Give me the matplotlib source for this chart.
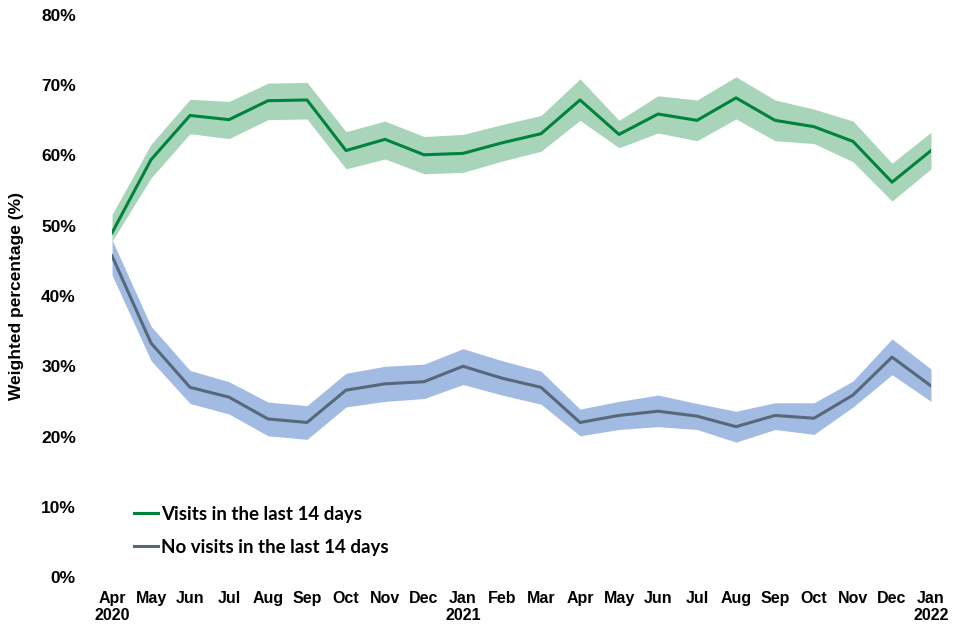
import matplotlib.pyplot as plt
import numpy as np

plt.rcParams['font.family'] = ['Liberation Sans', 'DejaVu Sans']
plt.rcParams['font.weight'] = 'bold'

# month labels, year on a second line where the year changes
months = ['Apr\n2020', 'May', 'Jun', 'Jul', 'Aug', 'Sep', 'Oct', 'Nov', 'Dec',
          'Jan\n2021', 'Feb', 'Mar', 'Apr', 'May', 'Jun', 'Jul', 'Aug', 'Sep',
          'Oct', 'Nov', 'Dec', 'Jan\n2022']

# Visits in the last 14 days
visits = [49.0, 59.4, 65.7, 65.1, 67.8, 67.9, 60.7, 62.3, 60.1, 60.3, 61.8, 63.1,
          67.9, 63.0, 65.9, 65.0, 68.2, 65.0, 64.1, 62.0, 56.2, 60.7]
visits_hi = [51.6, 61.6, 68.0, 67.7, 70.3, 70.4, 63.4, 64.9, 62.7, 63.0, 64.4, 65.7,
             70.9, 65.0, 68.5, 67.9, 71.2, 67.9, 66.6, 64.9, 58.9, 63.3]
visits_lo = [47.8, 56.8, 63.1, 62.4, 65.1, 65.2, 58.1, 59.5, 57.4, 57.6, 59.2, 60.6,
             65.0, 61.1, 63.2, 62.1, 65.2, 62.1, 61.7, 59.1, 53.5, 58.1]

# No visits in the last 14 days
novisits = [45.7, 33.3, 27.0, 25.6, 22.5, 22.0, 26.6, 27.5, 27.8, 30.0, 28.3, 27.0,
            22.0, 23.0, 23.6, 22.9, 21.4, 23.0, 22.6, 25.9, 31.3, 27.2]
novisits_hi = [48.0, 35.7, 29.4, 27.8, 24.9, 24.4, 29.0, 30.0, 30.3, 32.5, 30.8, 29.3,
               23.9, 25.0, 25.9, 24.7, 23.6, 24.8, 24.8, 27.9, 33.9, 29.6]
novisits_lo = [43.0, 30.8, 24.7, 23.2, 20.1, 19.6, 24.2, 25.0, 25.4, 27.4, 25.9, 24.6,
               20.1, 21.0, 21.4, 21.0, 19.2, 21.0, 20.3, 24.2, 28.8, 25.0]

x = np.arange(len(months))

fig = plt.figure(figsize=(9.6, 6.4), dpi=100)
ax = fig.add_axes([0.1167, 0.0984, 0.8531, 0.8782])

ax.fill_between(x, visits_lo, visits_hi, color='#A8D5BA', lw=0)
ax.fill_between(x, novisits_lo, novisits_hi, color='#7A9FD8', alpha=0.7, lw=0)
ax.plot(x, visits, color='#00833C', lw=2.2, label='Visits in the last 14 days')
ax.plot(x, novisits, color='#57687A', lw=2.2, label='No visits in the last 14 days')

ax.set_xlim(0, len(months) - 1)
ax.set_ylim(0, 80)
ax.set_yticks(range(0, 81, 10))
ax.set_yticklabels([f'{v}%' for v in range(0, 81, 10)], fontsize=12.5, fontweight='bold')
ax.set_xticks(x)
ax.set_xticklabels(months, fontsize=11.5, fontweight='bold', linespacing=1.15)
ax.tick_params(axis='x', length=0, pad=10)
ax.tick_params(axis='y', length=0, pad=26)
for s in ax.spines.values():
    s.set_visible(False)

ax.set_ylabel('Weighted percentage (%)', fontsize=12.5, fontweight='bold')
ax.yaxis.set_label_coords(-0.108, 0.5)

ax.legend(loc='lower left', bbox_to_anchor=(0.006, 0.008), frameon=False,
          handlelength=1.3, handletextpad=0.15, labelspacing=0.85,
          prop={'family': 'Lato', 'size': 13.5, 'weight': 'bold'})

fig.savefig('out.png', dpi=100)
